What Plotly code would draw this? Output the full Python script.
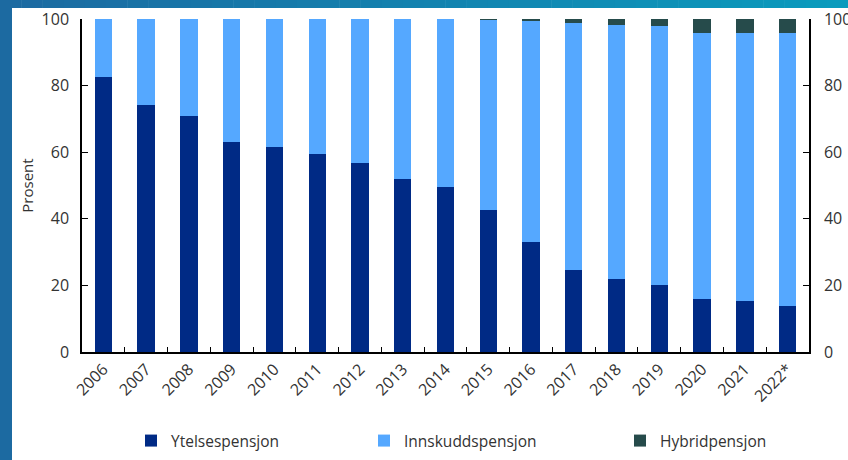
import plotly.graph_objects as go

years = ["2006", "2007", "2008", "2009", "2010", "2011", "2012", "2013", "2014",
         "2015", "2016", "2017", "2018", "2019", "2020", "2021", "2022*"]
ytelse = [82.5, 74.2, 70.9, 63.2, 61.6, 59.5, 56.9, 51.9, 49.6,
          42.6, 33.0, 24.7, 22.0, 20.0, 16.0, 15.4, 13.7]
hybrid = [0, 0, 0, 0, 0, 0, 0, 0, 0,
          0.3, 0.6, 1.3, 1.7, 2.0, 4.3, 4.3, 4.3]
innskudd = [round(100 - a - b, 2) for a, b in zip(ytelse, hybrid)]

W, H = 848, 460
L, R, T, B = 82, 39, 19, 108
PW, PH = W - L - R, H - T - B

def px_x(p):
    return (p - L) / PW

def px_y(p):
    return (H - B - p) / PH

FONT = "Open Sans"
TXT = "#333333"
FS = 16

fig = go.Figure()
fig.add_bar(x=years, y=ytelse, name="Ytelsespensjon", marker_color="#002a85",
            marker_line_width=0, legend="legend")
fig.add_bar(x=years, y=innskudd, name="Innskuddspensjon", marker_color="#55a8ff",
            marker_line_width=0, legend="legend2")
fig.add_bar(x=years, y=hybrid, name="Hybridpensjon", marker_color="#264b4b",
            marker_line_width=0, legend="legend3")
# invisible trace to activate the right axis
fig.add_bar(x=years, y=ytelse, yaxis="y2", opacity=0, marker_line_width=0,
            showlegend=False, hoverinfo="skip")

# decorative gradient frame (top + left strips)
shapes = []
n = 40
c0 = (0x1c, 0x6a, 0xa1)
c1 = (0x0a, 0x9b, 0xbd)
for i in range(n):
    t = i / (n - 1)
    col = "rgb(%d,%d,%d)" % tuple(round(a + (b - a) * t) for a, b in zip(c0, c1))
    x0 = W * i / n
    x1 = W * (i + 1) / n + 0.5
    shapes.append(dict(type="rect", xref="paper", yref="paper",
                       x0=px_x(x0), x1=px_x(x1), y0=px_y(8), y1=px_y(0),
                       fillcolor=col, line_width=0, layer="below"))
shapes.append(dict(type="rect", xref="paper", yref="paper",
                   x0=px_x(0), x1=px_x(12), y0=px_y(H), y1=px_y(0),
                   fillcolor="rgb(28,106,161)", line_width=0, layer="below"))

legend_common = dict(orientation="h", yanchor="middle", y=px_y(441),
                     xanchor="left", font=dict(family=FONT, size=15.5, color=TXT),
                     bgcolor="rgba(0,0,0,0)", itemclick=False)

fig.update_layout(
    width=W, height=H,
    margin=dict(l=L, r=R, t=T, b=B, autoexpand=False),
    paper_bgcolor="white", plot_bgcolor="white",
    barmode="stack", bargap=0.595,
    font=dict(family=FONT, size=FS, color=TXT),
    shapes=shapes,
    legend=dict(legend_common, x=px_x(131)),
    legend2=dict(legend_common, x=px_x(364)),
    legend3=dict(legend_common, x=px_x(620)),
    xaxis=dict(type="category", range=[-0.5, 16.5], showline=True, linecolor="black",
               linewidth=1.5, ticks="inside", tickson="boundaries", ticklen=5,
               tickcolor="black", tickangle=-45,
               tickfont=dict(family=FONT, size=FS, color=TXT),
               showgrid=False, zeroline=False),
    yaxis=dict(range=[0, 100], tickvals=[0, 20, 40, 60, 80, 100], showline=True,
               linecolor="black", linewidth=1.5, ticks="inside", ticklen=6,
               tickcolor="black", showgrid=False, zeroline=False,
               tickfont=dict(family=FONT, size=FS, color=TXT),
               ticklabelstandoff=8,
               title=dict(text="Prosent", font=dict(family=FONT, size=15, color=TXT),
                          standoff=4)),
    yaxis2=dict(range=[0, 100], tickvals=[0, 20, 40, 60, 80, 100], overlaying="y",
                side="right", showline=True, linecolor="black", linewidth=1.5,
                ticks="inside", ticklen=6, tickcolor="black", showgrid=False,
                zeroline=False, ticklabelstandoff=10,
                tickfont=dict(family=FONT, size=FS, color=TXT)),
)

fig.write_html("out.html", config={"displayModeBar": False},
               post_script="document.body.style.margin='0';document.body.style.overflow='hidden';")
